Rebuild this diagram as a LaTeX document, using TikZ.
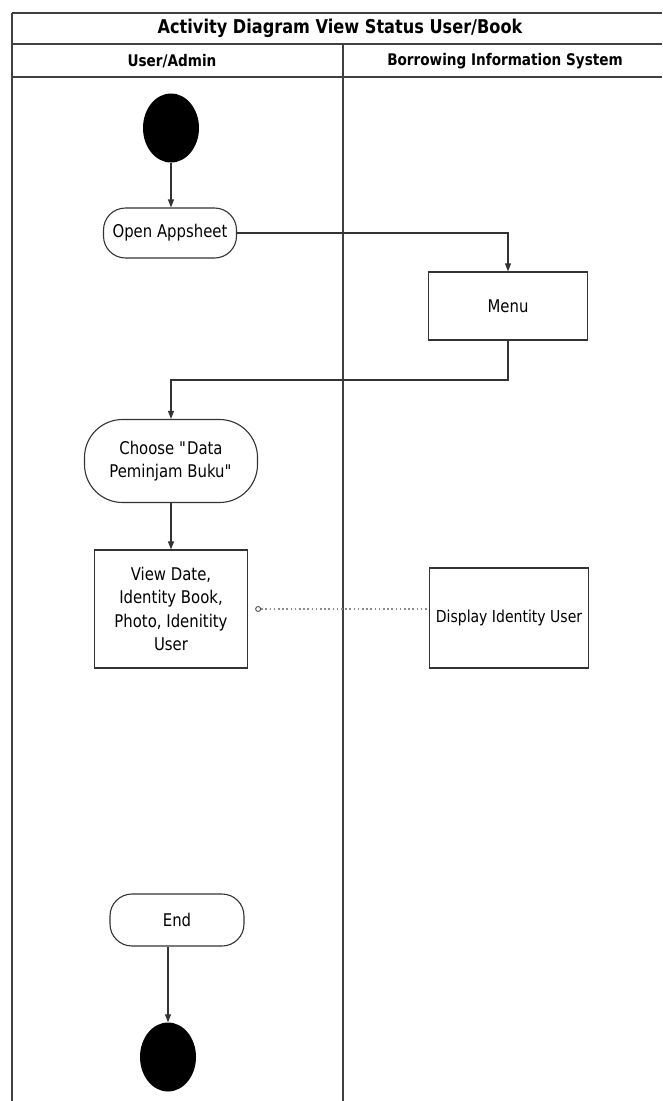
\documentclass[tikz,border=0pt]{standalone}
\usepackage{fontspec}
\setmainfont{DejaVu Sans}[FakeStretch=0.85]
\usetikzlibrary{arrows.meta,shapes.geometric}
\begin{document}
\begin{tikzpicture}[x=1pt,y=-1pt,
  frame/.style={draw=black!75,line width=1.3pt},
  act/.style={draw=black!80,line width=1.1pt,rounded corners=22pt,align=center,font=\fontsize{17.5}{23.5}\selectfont,inner sep=0pt},
  boxn/.style={draw=black!80,line width=1.3pt,align=center,font=\fontsize{17.5}{23.5}\selectfont,inner sep=0pt},
  dot/.style={ellipse,fill=black,inner sep=0pt},
  flow/.style={draw=black!80,line width=1.1pt,-{Triangle[length=8pt,width=6pt]}},
]
\useasboundingbox (0,0) rectangle (662,1101);
% frame
\draw[frame] (12,13) -- (662,13);
\draw[frame] (12,44) -- (662,44);
\draw[frame] (12,77) -- (662,77);
\draw[frame] (12,13) -- (12,1101);
\draw[frame] (343,44) -- (343,1101);
\node[font=\bfseries\fontsize{19}{22}\selectfont] (title) at (340,28) {Activity Diagram View Status User/Book};
\node[font=\bfseries\fontsize{16}{19}\selectfont] (lane1) at (172,61) {User/Admin};
\node[font=\bfseries\fontsize{16}{19}\selectfont] (lane2) at (505,61) {Borrowing Information System};
% nodes
\node[dot,minimum width=56pt,minimum height=69pt] (start) at (171,128) {};
\node[act,minimum width=133pt,minimum height=50pt] (open) at (170,233) {Open Appsheet};
\node[boxn,minimum width=159pt,minimum height=68pt] (menu) at (508,306) {Menu};
\node[act,rounded corners=38pt,minimum width=173pt,minimum height=83pt] (choose) at (171,461) {Choose \textquotedbl Data\\Peminjam Buku\textquotedbl};
\node[boxn,minimum width=153pt,minimum height=118pt] (view) at (171,609) {View Date,\\Identity Book,\\Photo, Idenitity\\User};
\node[boxn,minimum width=159pt,minimum height=100pt,font=\fontsize{16.5}{20}\selectfont] (disp) at (509,618) {Display Identity User};
\node[act,minimum width=134pt,minimum height=52pt] (end) at (177,920) {End};
\node[dot,minimum width=56pt,minimum height=69pt] (stop) at (168,1057) {};
% connectors
\draw[flow] (start) -- (open.north -| start);
\draw[flow] (open.east) -| (menu.north);
\coordinate (bend) at (508,380);
\draw[flow] (menu.south) -- (bend) -| (choose.north);
\draw[flow] (choose.south) -- (view.north);
\node[circle,draw=black!70,line width=0.9pt,inner sep=0pt,minimum size=5pt] (oc) at ([xshift=10pt]view.east) {};
\draw[draw=black!45,line width=1.6pt,dash pattern=on 1.6pt off 2.6pt] (oc.east) -- (disp.west |- oc.east);
\draw[flow] (end.south -| stop) -- (stop.north);
\end{tikzpicture}
\end{document}
